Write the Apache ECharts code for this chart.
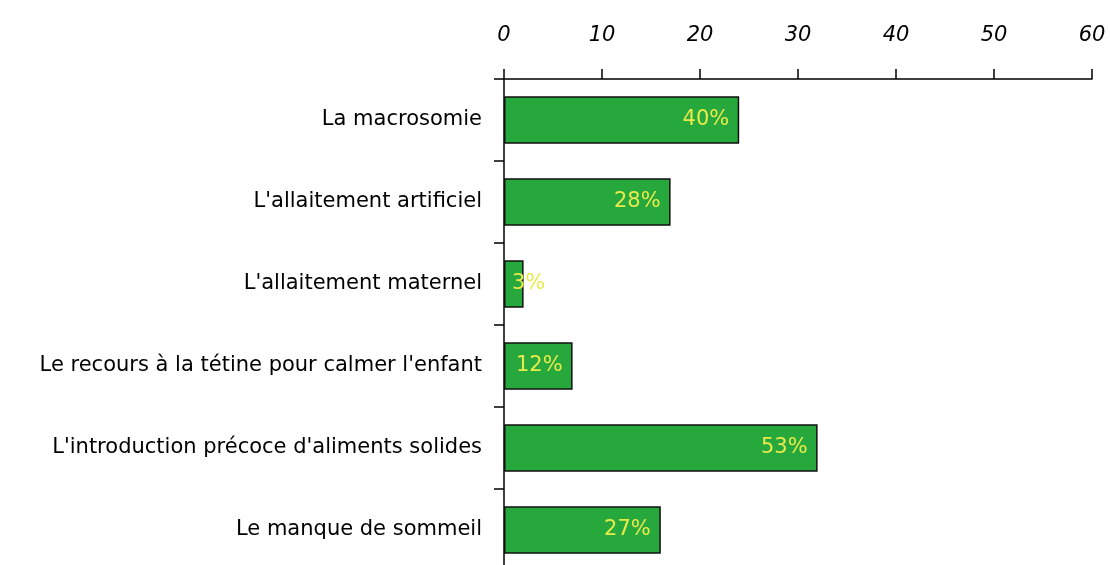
<!DOCTYPE html>
<html>
<head>
<meta charset="utf-8">
<script src="https://cdn.jsdelivr.net/npm/echarts@6/dist/echarts.min.js"></script>
<style>
  html, body { margin: 0; padding: 0; background: #fff; }
  #chart { width: 1110px; height: 565px; }
</style>
</head>
<body>
<div id="chart"></div>
<script>
// categories, top to bottom
const categories = [
  "La macrosomie",
  "L'allaitement artificiel",
  "L'allaitement maternel",
  "Le recours à la tétine pour calmer l'enfant",
  "L'introduction précoce d'aliments solides",
  "Le manque de sommeil"
]
const counts = [24, 17, 2, 7, 32, 16]
const percents = ["40%", "28%", "3%", "12%", "53%", "27%"]
const tickValues = [0, 10, 20, 30, 40, 50, 60]

const fontName = "DejaVu Sans"

let chart = echarts.init(document.getElementById('chart'))

let barData = counts.map(function (v, i) {
  let item = { value: v }
  // le 3% ne tient pas dans la barre, on le colle a gauche
  if (v < 5) {
    item.label = { position: 'insideLeft', distance: 8 }
  }
  return item
})

chart.setOption({
  animation: false,
  grid: {
    left: 504,
    right: 18,
    top: 79,
    height: 492,
    outerBoundsMode: 'none'
  },
  xAxis: {
    type: 'value',
    position: 'top',
    min: tickValues[0],
    max: tickValues[tickValues.length - 1],
    interval: 10,
    splitLine: { show: false },
    axisLine: { show: true, lineStyle: { color: '#000', width: 1.5 } },
    axisTick: { show: true, length: 10, lineStyle: { color: '#000', width: 1.5 } },
    axisLabel: {
      margin: 33,
      color: '#000',
      fontFamily: fontName,
      fontStyle: 'italic',
      fontSize: 21
    }
  },
  yAxis: {
    type: 'category',
    inverse: true,
    data: categories,
    axisLine: { show: true, lineStyle: { color: '#000', width: 1.5 } },
    axisTick: { show: true, length: 10, lineStyle: { color: '#000', width: 1.5 } },
    axisLabel: {
      margin: 22,
      color: '#000',
      fontFamily: fontName,
      fontSize: 21
    }
  },
  series: [
    {
      type: 'bar',
      data: barData,
      barWidth: '58%',
      itemStyle: {
        color: '#27a83c',
        borderColor: '#111',
        borderWidth: 1.5
      },
      label: {
        show: true,
        position: 'insideRight',
        distance: 10,
        color: '#e8ea4c',
        fontFamily: fontName,
        fontSize: 21,
        formatter: function (p) { return percents[p.dataIndex] }
      }
    }
  ]
})
</script>
</body>
</html>
